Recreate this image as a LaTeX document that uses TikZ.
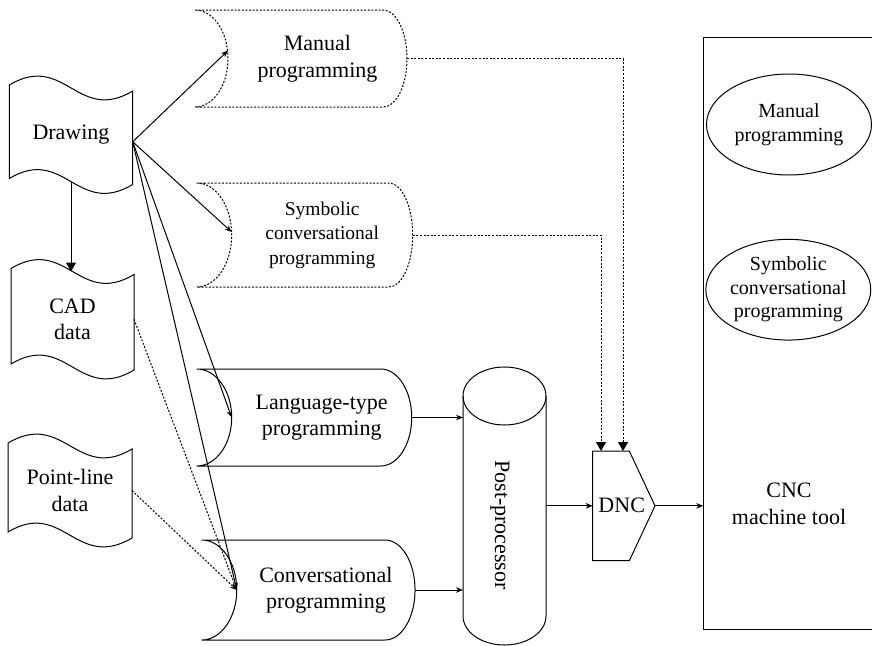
\documentclass[tikz,border=0pt]{standalone}
\usepackage{fontspec}
\setmainfont{Liberation Serif}
\usetikzlibrary{arrows.meta,shapes.geometric}

% Program box: concave left side, convex right side.
% #1 node, #2 left bulge, #3 right bulge, #4 half height, #5 line style
\newcommand\progshape[5]{%
  \draw[#5] ([xshift=-#2pt]#1.north west) -- ([xshift=-#3pt]#1.north east)
    arc[start angle=90, end angle=-90, x radius=#3pt, y radius=#4pt]
    -- ([xshift=-#2pt]#1.south west)
    arc[start angle=-90, end angle=90, x radius=#2pt, y radius=#4pt];
}
% Punched-tape outline with wavy top and bottom edges
\newcommand\tapeshape[1]{%
  \draw[edge] ([yshift=3pt]#1.north west) -- ([yshift=3pt]#1.south west)
    .. controls ([xshift=55pt,yshift=36pt]#1.south west)
       and ([xshift=68pt,yshift=-36pt]#1.south west) .. ([yshift=-3pt]#1.south east)
    -- ([yshift=-3pt]#1.north east)
    .. controls ([xshift=-55pt,yshift=-36pt]#1.north east)
       and ([xshift=-68pt,yshift=36pt]#1.north east) .. ([yshift=3pt]#1.north west)
    -- cycle;
}

\tikzset{
  edge/.style={line width=1pt},
  dots/.style={line width=1pt, dash pattern=on 2pt off 1.6pt},
  box/.style={rectangle, inner sep=0pt, outer sep=0pt, align=center},
  small/.style={-{Stealth[length=7pt,width=5.5pt]}, line width=1pt},
  big/.style={-{Triangle[length=9pt,width=10pt]}},
  txt/.style={font=\fontsize{22}{26.5}\selectfont},
}

\begin{document}
\begin{tikzpicture}[x=1pt, y=-1pt, txt]
\useasboundingbox (0,0) rectangle (872,645);

% sources
\node[box, minimum width=123.4pt, minimum height=93.5pt] (drw) at (71,134.75) {Drawing};
\node[box, minimum width=123pt, minimum height=95.5pt] (cad) at (72.5,319.25) {CAD\\data};
\node[box, minimum width=124pt, minimum height=89pt] (pld) at (70,490.5) {Point-line\\data};
\tapeshape{drw}
\tapeshape{cad}
\tapeshape{pld}

% programming methods
\node[box, minimum width=179pt, minimum height=97pt] (man) at (317.5,58.5) {Manual\\programming};
\node[box, minimum width=181pt, minimum height=104pt, font=\fontsize{19.5}{24.5}\selectfont] (sym) at (322.2,235) {Symbolic\\conversational\\programming};
\node[box, minimum width=180pt, minimum height=97pt] (lang) at (321.7,417.5) {Language-type\\programming};
\node[box, minimum width=178.3pt, minimum height=100pt] (conv) at (325.9,590) {Conversational\\programming};
\progshape{man}{33}{24}{48.5}{dots}
\progshape{sym}{35}{24}{52}{dots}
\progshape{lang}{35}{31}{48.5}{edge}
\progshape{conv}{35}{30}{50}{edge}

% post-processor drum
\node[box, minimum width=83pt, minimum height=220pt] (pp) at (504.5,506) {};
\draw[edge] (pp.north) ellipse[x radius=41.5pt, y radius=29pt];
\draw[edge] (pp.north west) -- (pp.south west)
  arc[start angle=180, end angle=360, x radius=41.5pt, y radius=29pt] -- (pp.north east);
\node[rotate=-90, inner sep=0pt] (pptext) at (500,525) {Post-processor};

% DNC
\node[box, minimum width=62.3pt, minimum height=109.7pt] (dnc) at (623.85,505.85) {};
\draw[edge] (dnc.north west) -- ([xshift=-25.7pt]dnc.north east) -- (dnc.east)
  -- ([xshift=-25.7pt]dnc.south east) -- (dnc.south west) -- cycle;
\node[inner sep=0pt] (dnctext) at (621.7,505) {DNC};

% CNC machine tool
\coordinate (cncTL) at (703.3,37.3);
\coordinate (cncBL) at (703.3,629.3);
\draw[edge] (872,37.3) -- (cncTL) -- (cncBL) -- (872,629.3);
\node[draw, ellipse, edge, inner sep=0pt, minimum width=165pt, minimum height=101pt,
  align=center, font=\fontsize{20}{23.5}\selectfont] (e1) at (789,124.5) {Manual\\programming};
\node[draw, ellipse, edge, inner sep=0pt, minimum width=163.4pt, minimum height=100.7pt,
  align=center, font=\fontsize{20}{23.5}\selectfont] (e2) at (788.3,289.7) {Symbolic\\conversational\\programming};
\node[align=center, inner sep=0pt] (cnc) at (789,504) {CNC\\machine tool};

% connectors
\coordinate (dsrc) at ([yshift=-7pt]drw.east);
\draw[edge, big] (drw.south) -- (drw.south |- cad.north);
\draw[small] (dsrc) -- ([yshift=8pt]man.west);
\draw[small] (dsrc) -- ([yshift=3pt]sym.west);
\draw[small] (dsrc) -- (lang.west);
\draw[small] (dsrc) -- (conv.west);
\draw[dots, -{Stealth[length=7pt,width=5.5pt]}] (cad.east) -- (conv.west);
\draw[dots, -{Stealth[length=7pt,width=5.5pt]}] (pld.east) -- (conv.west);

\draw[small] (lang.east) -- (lang.east -| pp.west);
\draw[small] (conv.east) -- (conv.east -| pp.west);
\draw[small] (dnc.west -| pp.east) -- (dnc.west);
\draw[small] (dnc.east) -- (dnc.east -| cncBL);

\draw[dots, big] (man.east) -| ([xshift=30.3pt]dnc.north west);
\draw[dots, big] (sym.east) -| ([xshift=8.3pt]dnc.north west);
\end{tikzpicture}
\end{document}
